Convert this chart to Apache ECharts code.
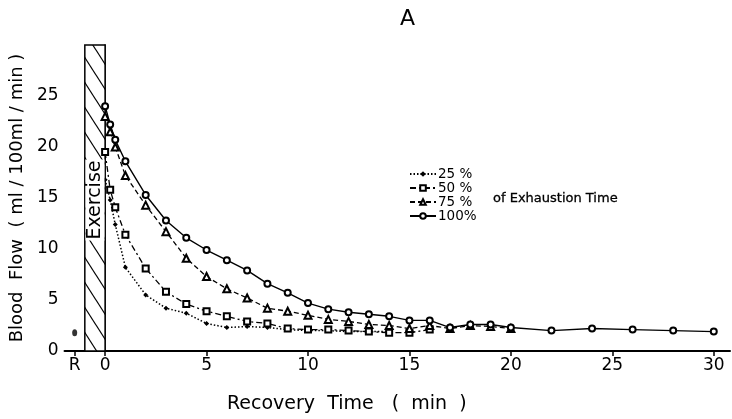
<!DOCTYPE html>
<html>
<head>
<meta charset="utf-8">
<script src="https://cdn.jsdelivr.net/npm/echarts@6/dist/echarts.min.js"></script>
<style>
  html, body { margin: 0; padding: 0; background: #fff; }
  #chart { width: 732px; height: 419px; }
</style>
</head>
<body>
<div id="chart"></div>
<script>
// recovery time (min) and blood flow (ml/100ml/min) per exercise intensity
const time25 = [0, 0.25, 0.5, 1, 2, 3, 4, 5, 6, 7, 8, 9, 10, 11, 12, 13, 14];
const flow25 = [16.8, 14.8, 12.4, 8.2, 5.5, 4.2, 3.7, 2.7, 2.3, 2.4, 2.3, 2.1, 2.0, 2.0, 1.9, 1.9, 1.9];

const time50 = [0, 0.25, 0.5, 1, 2, 3, 4, 5, 6, 7, 8, 9, 10, 11, 12, 13, 14, 15, 16];
const flow50 = [19.5, 15.8, 14.1, 11.4, 8.1, 5.8, 4.6, 3.9, 3.4, 2.9, 2.7, 2.2, 2.1, 2.1, 2.0, 1.9, 1.8, 1.8, 2.1];

const time75 = [0, 0.25, 0.5, 1, 2, 3, 4, 5, 6, 7, 8, 9, 10, 11, 12, 13, 14, 15, 16, 17, 18, 19, 20];
const flow75 = [23.0, 21.5, 20.0, 17.2, 14.3, 11.7, 9.1, 7.3, 6.1, 5.2, 4.2, 3.9, 3.5, 3.1, 2.9, 2.6, 2.5, 2.2, 2.5, 2.2, 2.5, 2.4, 2.2];

const time100 = [0, 0.25, 0.5, 1, 2, 3, 4, 5, 6, 7, 8, 9, 10, 11, 12, 13, 14, 15, 16, 17, 18, 19, 20, 22, 24, 26, 28, 30];
const flow100 = [24.0, 22.2, 20.7, 18.6, 15.3, 12.8, 11.1, 9.9, 8.9, 7.9, 6.6, 5.7, 4.7, 4.1, 3.8, 3.6, 3.4, 3.0, 3.0, 2.3, 2.6, 2.6, 2.3, 2.0, 2.2, 2.1, 2.0, 1.9];

// resting value, plotted at the "R" tick
const restTime = [-1.5];
const restFlow = [1.8];

// exercise period (hatched band)
const exerciseRange = [-1, 0];

const xTicks = [-1.5, 0, 5, 10, 15, 20, 25, 30];
const yTicks = [0, 5, 10, 15, 20, 25];
const seriesNames = ["25 %", "50 %", "75 %", "100%"];

const font = "DejaVu Sans, Verdana, sans-serif";

const zip = (xs, ys) => xs.map((x, i) => [x, ys[i]]);

// diagonal hatch for the exercise band
const makeHatch = () => {
    const w = 16, h = 25;
    const c = document.createElement("canvas");
    c.width = w;
    c.height = h;
    const ctx = c.getContext("2d");
    ctx.fillStyle = "#fff";
    ctx.fillRect(0, 0, w, h);
    ctx.strokeStyle = "#000";
    ctx.lineWidth = 1.2;
    const k = h / w;
    [-w, 0, w].forEach(dx => {
        ctx.beginPath();
        ctx.moveTo(dx - 2, -2 * k);
        ctx.lineTo(dx + w + 2, h + 2 * k);
        ctx.stroke();
    });
    return c;
};

const myChart = echarts.init(document.getElementById("chart"));

const lineBase = {
    type: "line",
    color: "#000",
    showAllSymbol: true,
    z: 3
};

const option = {
    animation: false,
    textStyle: { fontFamily: font },
    title: [
        {
            text: "A",
            left: 395,
            top: 3,
            textStyle: { fontSize: 22, fontWeight: "normal", fontFamily: font, color: "#000" }
        },
        {
            text: "of Exhaustion Time",
            left: 488,
            top: 187,
            textStyle: { fontSize: 13, fontWeight: "normal", fontFamily: font, color: "#000", textBorderColor: "#000", textBorderWidth: 0.3 }
        },
        {
            text: "Recovery  Time   (  min  )",
            left: 222,
            top: 390,
            textStyle: { fontSize: 19, fontWeight: "normal", fontFamily: font, color: "#000" }
        }
    ],
    legend: {
        data: seriesNames,
        orient: "vertical",
        left: 404,
        top: 162,
        itemGap: 0,
        itemWidth: 26,
        itemHeight: 7,
        textStyle: { fontSize: 13.5, lineHeight: 12.5, fontFamily: font, color: "#000", padding: [0, 0, 0, -3] }
    },
    grid: {
        left: 64,
        right: 2,
        top: 45,
        bottom: 68
    },
    xAxis: {
        type: "value",
        min: -2,
        max: 30.8,
        axisLine: { lineStyle: { color: "#000", width: 2 } },
        axisTick: { length: 5, customValues: xTicks, lineStyle: { color: "#000", width: 1.5 } },
        axisLabel: {
            customValues: xTicks,
            fontSize: 17,
            color: "#000",
            margin: 6,
            formatter: v => (v === -1.5 ? "R" : String(v))
        },
        splitLine: { show: false }
    },
    yAxis: {
        type: "value",
        min: 0,
        max: 30,
        name: "Blood  Flow  ( ml / 100ml / min )",
        nameLocation: "middle",
        nameGap: 37,
        nameTextStyle: { fontSize: 18, color: "#000", fontFamily: font },
        axisLine: { show: true, lineStyle: { color: "#000", width: 1.5 } },
        axisTick: { show: true, length: 4, customValues: yTicks, lineStyle: { color: "#000", width: 1.5 } },
        axisLabel: { customValues: yTicks, fontSize: 17, color: "#000", margin: 6 },
        splitLine: { show: false }
    },
    series: [
        {
            ...lineBase,
            name: seriesNames[0],
            data: zip(time25, flow25),
            symbol: "diamond",
            symbolSize: 5,
            lineStyle: { width: 1.5, type: [1.5, 2] },
            itemStyle: { color: "#000" },
            markArea: {
                silent: true,
                z: 1,
                itemStyle: {
                    color: { image: makeHatch(), repeat: "repeat" },
                    borderColor: "#000",
                    borderWidth: 1.5
                },
                data: [[
                    { xAxis: exerciseRange[0], yAxis: 0 },
                    { xAxis: exerciseRange[1], yAxis: 30 }
                ]]
            }
        },
        {
            ...lineBase,
            name: seriesNames[1],
            data: zip(time50, flow50),
            symbol: "emptyRect",
            symbolSize: 6,
            lineStyle: { width: 1.3, type: [6, 3, 2, 3] },
            itemStyle: { color: "#000", borderWidth: 1.2 }
        },
        {
            ...lineBase,
            name: seriesNames[2],
            data: zip(time75, flow75),
            symbol: "emptyTriangle",
            symbolSize: 7,
            lineStyle: { width: 1.3, type: [5, 3] },
            itemStyle: { color: "#000", borderWidth: 1.2 }
        },
        {
            ...lineBase,
            name: seriesNames[3],
            data: zip(time100, flow100),
            symbol: "emptyCircle",
            symbolSize: 6,
            lineStyle: { width: 1.4, type: "solid" },
            itemStyle: { color: "#000", borderWidth: 1.2 }
        },
        {
            type: "scatter",
            name: "rest",
            data: zip(restTime, restFlow),
            symbol: "circle",
            symbolSize: [5, 7],
            itemStyle: { color: "#000" }
        }
    ]
};

myChart.setOption(option);

// vertical "Exercise" label sitting on the hatched band
const labelPos = myChart.convertToPixel({ gridIndex: 0 }, [
    (exerciseRange[0] + exerciseRange[1]) / 2,
    14.8
]);
myChart.setOption({
    graphic: [{
        type: "text",
        x: labelPos[0],
        y: labelPos[1],
        rotation: Math.PI / 2,
        z: 10,
        style: {
            text: "Exercise",
            fontSize: 19,
            fontFamily: font,
            fill: "#000",
            align: "center",
            verticalAlign: "middle",
            backgroundColor: "#fff",
            padding: [0, 1, 0, 1]
        }
    }]
});

window.addEventListener("resize", () => {
    myChart.resize();
});
</script>
</body>
</html>
